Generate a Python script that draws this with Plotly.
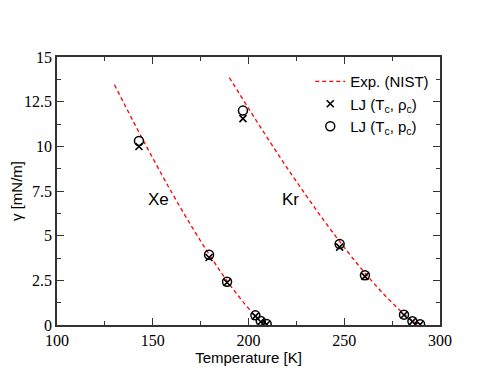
import plotly.graph_objects as go

xe_nist_T = [130, 140, 150, 160, 170, 180, 190, 200, 205, 209.5]
xe_nist_g = [13.45, 11.36, 9.34, 7.40, 5.57, 3.86, 2.29, 0.93, 0.36, 0.0]
kr_nist_T = [190, 200, 210, 220, 230, 240, 250, 260, 270, 280, 285, 289.7]
kr_nist_g = [13.85, 12.13, 10.45, 8.82, 7.26, 5.76, 4.34, 3.01, 1.80, 0.73, 0.29, 0.0]

# LJ simulation points
sim_T = [142.8, 179.4, 188.8, 203.6, 206.4, 209.5,
         197.1, 247.6, 260.8, 281.2, 285.6, 289.6]
lj_rho_g = [9.99, 3.78, 2.38, 0.50, 0.18, 0.04,
            11.55, 4.36, 2.72, 0.56, 0.19, 0.03]
lj_p_g = [10.30, 3.93, 2.42, 0.54, 0.22, 0.06,
          12.00, 4.53, 2.78, 0.58, 0.21, 0.04]

sans = "Liberation Sans"
serif = "Liberation Serif"

fig = go.Figure()

# NIST curves share one legend entry
fig.add_trace(go.Scatter(x=xe_nist_T, y=xe_nist_g, mode="lines", name="Exp. (NIST)",
                         line=dict(color="red", dash="4px,3px", width=1.3, shape="spline"),
                         legendgroup="nist"))
fig.add_trace(go.Scatter(x=kr_nist_T, y=kr_nist_g, mode="lines", name="Exp. (NIST)",
                         line=dict(color="red", dash="4px,3px", width=1.3, shape="spline"),
                         legendgroup="nist", showlegend=False))

fig.add_trace(go.Scatter(x=sim_T, y=lj_rho_g, mode="markers",
                         name="LJ (T<sub>c</sub>, ρ<sub>c</sub>)",
                         marker=dict(symbol="x-thin-open", size=7, color="black",
                                     line=dict(color="black", width=1.6))))
fig.add_trace(go.Scatter(x=sim_T, y=lj_p_g, mode="markers",
                         name="LJ (T<sub>c</sub>, p<sub>c</sub>)",
                         marker=dict(symbol="circle-open", size=9, color="black",
                                     line=dict(color="black", width=1.5))))

for txt, tx in [("Xe", 153), ("Kr", 222)]:
    fig.add_annotation(x=tx, y=7.0, text=txt, showarrow=False,
                       font=dict(family=sans, size=17, color="black"))

axis_common = dict(
    showgrid=False, zeroline=False, showline=True, linecolor="#333", linewidth=1.5,
    mirror="allticks", ticks="inside", ticklen=7, tickwidth=1.2, tickcolor="#333",
    automargin=False,
)

# page body adds 8px offset, so margins are shifted to put the plot area in place
fig.update_layout(
    width=495, height=383,
    margin=dict(l=49, r=63, t=49, b=66),
    plot_bgcolor="white", paper_bgcolor="white",
    xaxis=dict(range=[100, 300], dtick=50, tick0=100,
               minor=dict(ticks="inside", dtick=25, ticklen=4, tickcolor="#333"),
               tickfont=dict(family=serif, size=16, color="black"),
               title=dict(text="Temperature [K]", standoff=2,
                          font=dict(family=sans, size=15, color="black")),
               **axis_common),
    yaxis=dict(range=[0, 15], dtick=2.5, tick0=0,
               minor=dict(ticks="inside", dtick=1.25, ticklen=4, tickcolor="#333"),
               tickfont=dict(family=serif, size=16, color="black"),
               title=dict(text="γ [mN/m]", standoff=2,
                          font=dict(family=sans, size=15, color="black")),
               **axis_common),
    legend=dict(x=0.985, y=0.97, xanchor="right", yanchor="top",
                bgcolor="rgba(0,0,0,0)", tracegroupgap=0,
                font=dict(family=sans, size=15, color="black")),
    showlegend=True,
)

fig.write_html("out.html")
